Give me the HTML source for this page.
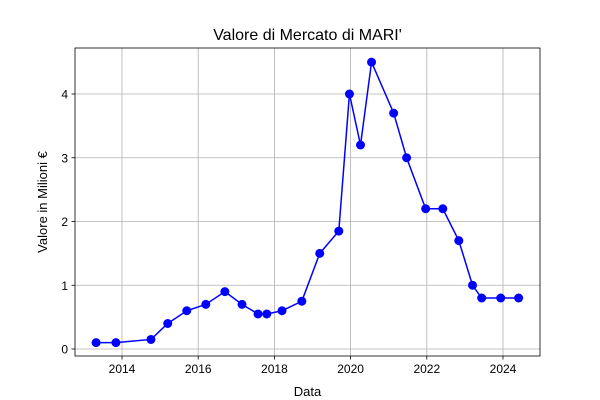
<!DOCTYPE html>
<html><head><meta charset="utf-8"><style>
html,body{margin:0;padding:0;background:#fff;}
svg{display:block;font-family:"Liberation Sans","DejaVu Sans",sans-serif;}
</style></head><body>
<svg id="chart" width="600" height="400"></svg>
<script>
const years=[2013.32,2013.84,2014.76,2015.2,2015.7,2016.2,2016.7,2017.15,2017.57,2017.8,2018.2,2018.72,2019.19,2019.69,2019.97,2020.26,2020.55,2021.13,2021.47,2021.97,2022.42,2022.84,2023.2,2023.44,2023.94,2024.41];
const values=[0.1,0.1,0.15,0.4,0.6,0.7,0.9,0.7,0.55,0.55,0.6,0.75,1.5,1.85,4.0,3.2,4.5,3.7,3.0,2.2,2.2,1.7,1.0,0.8,0.8,0.8];
const xTicks=[2014,2016,2018,2020,2022,2024];
const yTicks=[0,1,2,3,4];
const NS="http://www.w3.org/2000/svg";
const svg=document.getElementById('chart');
const L=75,R=540,T=48,B=356;
const x=v=>122+(v-2014)*(503-122)/10;
const y=v=>349-v*(349-94)/4;
function mk(t,a,p){const e=document.createElementNS(NS,t);for(const k in a)e.setAttribute(k,a[k]);(p||svg).appendChild(e);return e;}
xTicks.forEach(t=>{
 const g=mk('line',{x1:x(t),x2:x(t),y1:T,y2:B,stroke:'#b0b0b0','stroke-width':0.8});
 
 
 const tk=mk('line',{x1:x(t),x2:x(t),y1:B,y2:B+3.5,stroke:'#000','stroke-width':0.8});
 
 
 const tx=mk('text',{x:x(t),y:B+17,'text-anchor':'middle','font-size':12});
 tx.textContent=t;
 
 
});
yTicks.forEach(t=>{
 const g=mk('line',{x1:L,x2:R,y1:y(t),y2:y(t),stroke:'#b0b0b0','stroke-width':0.8});
 
 
 const tk=mk('line',{x1:L-3.5,x2:L,y1:y(t),y2:y(t),stroke:'#000','stroke-width':0.8});
 
 
 const tx=mk('text',{x:L-7,y:y(t)+4.5,'text-anchor':'end','font-size':12});
 tx.textContent=t;
 
 
});
const line=mk('polyline',{points:years.map((v,i)=>x(v)+','+y(values[i])).join(' '),fill:'none',stroke:'#0000ff','stroke-width':1.5});


years.forEach((v,i)=>{
 const c=mk('circle',{cx:x(v),cy:y(values[i]),r:4.5,fill:'#0000ff'});
 
 
});
const frame=mk('rect',{x:L,y:T,width:R-L,height:B-T,fill:'none',stroke:'#000','stroke-width':0.8});


const title=mk('text',{x:(L+R)/2,y:40,'text-anchor':'middle','font-size':16});
title.textContent="Valore di Mercato di MARI'";


const xl=mk('text',{x:(L+R)/2,y:396,'text-anchor':'middle','font-size':13});
xl.textContent="Data";


const yl=mk('text',{x:0,y:0,'text-anchor':'middle','font-size':13,transform:'translate(47,'+((T+B)/2)+') rotate(-90)'});
yl.textContent="Valore in Milioni €";


</script>
</body></html>
